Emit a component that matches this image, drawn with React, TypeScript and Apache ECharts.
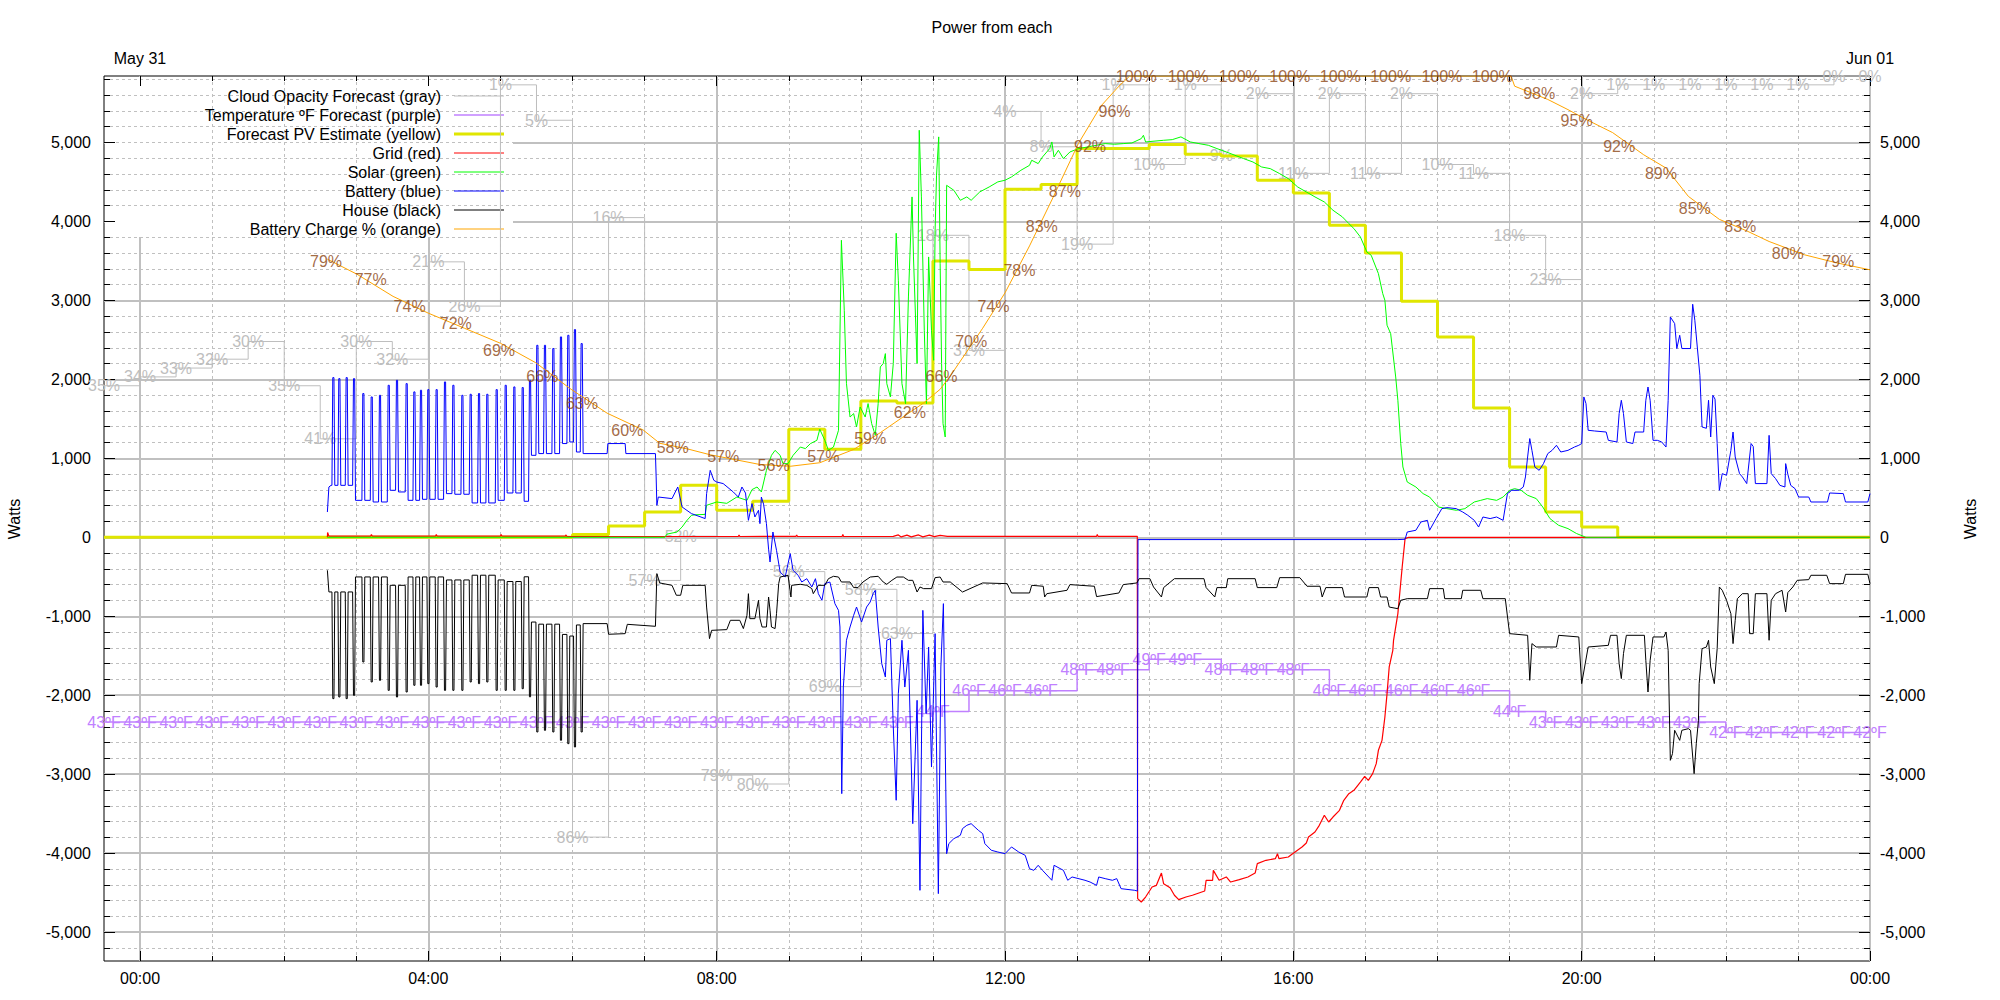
import React, { useEffect, useRef } from "react";
import * as echarts from "echarts";

const FONT = '"Liberation Sans", Arial, Helvetica, sans-serif';

// half-hour forecast slots (hours from 00:00 May 31)
const halfHours = [-0.5, 0, 0.5, 1, 1.5, 2, 2.5, 3, 3.5, 4, 4.5, 5, 5.5, 6, 6.5, 7, 7.5, 8, 8.5, 9, 9.5, 10, 10.5, 11, 11.5, 12, 12.5, 13, 13.5, 14, 14.5, 15, 15.5, 16, 16.5, 17, 17.5, 18, 18.5, 19, 19.5, 20, 20.5, 21, 21.5, 22, 22.5, 23, 23.5, 24];
const cloudPct = [35, 34, 33, 32, 30, 35, 41, 30, 32, 21, 26, 1, 5, 86, 16, 57, 52, 79, 80, 56, 69, 58, 63, 18, 31, 4, 8, 19, 1, 10, 1, 9, 2, 11, 2, 11, 2, 10, 11, 18, 23, 2, 1, 1, 1, 1, 1, 1, 0, 0];
const tempF = [43, 43, 43, 43, 43, 43, 43, 43, 43, 43, 43, 43, 43, 43, 43, 43, 43, 43, 43, 43, 43, 43, 43, 44, 46, 46, 46, 48, 48, 49, 49, 48, 48, 48, 46, 46, 46, 46, 46, 44, 43, 43, 43, 43, 43, 42, 42, 42, 42, 42];
const pvWatts = [0, 0, 0, 0, 0, 0, 0, 0, 0, 0, 0, 0, 0, 34, 143, 320, 658, 342, 456, 1368, 1114, 1726, 1700, 3499, 3390, 4407, 4466, 4922, 4922, 4973, 4850, 4829, 4520, 4360, 3951, 3600, 2988, 2537, 1637, 890, 320, 130, 0, 0, 0, 0, 0, 0, 0, 0];

const gridPoints = [[2.599, 0], [2.602, 60], [2.62, 15], [3.2, 15], [3.21, 35], [3.22, 15], [4.1, 15], [4.11, 35], [4.12, 15], [5.0, 15], [5.01, 35], [5.02, 15], [5.9, 15], [5.91, 30], [5.92, 12], [7.0, 10], [8.3, 10], [8.31, 30], [8.32, 10], [9.1, 12], [9.11, 30], [9.12, 10], [9.74, 10], [9.75, 35], [9.76, 10], [10.45, 12], [10.52, 30], [10.56, 5], [10.64, 28], [10.7, 5], [10.8, 30], [10.86, 5], [10.95, 28], [11.02, 8], [11.1, 25], [11.2, 12], [13.27, 12], [13.28, 35], [13.29, 12], [13.835, 12], [13.84, -4575], [13.89, -4618], [13.95, -4555], [14.04, -4428], [14.1, -4407], [14.17, -4251], [14.2, -4386], [14.29, -4437], [14.35, -4533], [14.41, -4588], [14.51, -4555], [14.6, -4533], [14.69, -4504], [14.77, -4479], [14.79, -4343], [14.88, -4343], [14.89, -4217], [14.97, -4343], [15.07, -4301], [15.13, -4365], [15.25, -4335], [15.37, -4301], [15.47, -4251], [15.5, -4132], [15.62, -4090], [15.75, -4069], [15.78, -4006], [15.8, -4069], [15.93, -4048], [15.99, -4006], [16.12, -3921], [16.18, -3871], [16.21, -3795], [16.3, -3732], [16.36, -3647], [16.43, -3520], [16.49, -3605], [16.55, -3542], [16.64, -3457], [16.7, -3330], [16.77, -3246], [16.84, -3204], [16.93, -3099], [16.99, -3027], [17.04, -3077], [17.1, -2992], [17.15, -2866], [17.18, -2697], [17.23, -2571], [17.27, -2276], [17.3, -1979], [17.33, -1642], [17.38, -1431], [17.39, -1304], [17.45, -966], [17.51, -376], [17.55, -17], [17.6, 0], [24, 0]];

const solarPoints = [[2.599, 0], [7.28, 0], [7.31, 40], [7.45, 67], [7.52, 130], [7.58, 206], [7.65, 278], [7.7, 285], [7.84, 290], [7.86, 405], [8.0, 447], [8.14, 430], [8.28, 510], [8.42, 468], [8.49, 604], [8.56, 637], [8.62, 574], [8.69, 848], [8.76, 1038], [8.81, 1101], [8.88, 1038], [8.92, 933], [8.99, 933], [9.06, 1038], [9.16, 1143], [9.23, 1123], [9.3, 1186], [9.39, 1228], [9.43, 1368], [9.5, 1228], [9.55, 1101], [9.62, 1143], [9.69, 1355], [9.73, 3761], [9.77, 2874], [9.8, 1950], [9.85, 1523], [9.9, 1566], [9.94, 1397], [9.99, 1650], [10.06, 1523], [10.1, 1693], [10.15, 1440], [10.2, 1291], [10.24, 1693], [10.27, 2157], [10.31, 2200], [10.34, 2326], [10.36, 1946], [10.41, 1777], [10.45, 2200], [10.49, 3850], [10.52, 3255], [10.57, 1946], [10.62, 1693], [10.66, 3043], [10.71, 4310], [10.73, 3550], [10.78, 2200], [10.81, 5154], [10.84, 4310], [10.88, 2621], [10.91, 1693], [10.94, 3550], [10.98, 2621], [11.01, 2241], [11.03, 3888], [11.05, 4585], [11.08, 5070], [11.1, 3466], [11.12, 2200], [11.14, 1440], [11.17, 1270], [11.19, 4457], [11.29, 4394], [11.38, 4267], [11.47, 4310], [11.53, 4267], [11.65, 4373], [11.78, 4436], [11.9, 4500], [12.0, 4521], [12.09, 4563], [12.22, 4647], [12.34, 4710], [12.37, 4774], [12.46, 4732], [12.52, 4816], [12.62, 4922], [12.65, 5006], [12.68, 4816], [12.74, 4900], [12.81, 4795], [12.9, 4879], [13.02, 4922], [13.15, 4943], [13.27, 4964], [13.39, 4985], [13.52, 4977], [13.64, 4985], [13.76, 4993], [13.89, 5048], [13.92, 5090], [13.95, 5006], [14.2, 5027], [14.32, 5035], [14.44, 5070], [14.57, 5006], [14.69, 4985], [14.82, 4964], [14.94, 4922], [15.07, 4879], [15.19, 4837], [15.31, 4795], [15.44, 4752], [15.56, 4689], [15.68, 4668], [15.81, 4605], [15.93, 4541], [16.06, 4436], [16.18, 4373], [16.3, 4310], [16.43, 4246], [16.55, 4141], [16.68, 4057], [16.77, 3972], [16.84, 3909], [16.93, 3803], [17.02, 3613], [17.08, 3571], [17.18, 3339], [17.24, 3086], [17.27, 3001], [17.3, 2685], [17.35, 2579], [17.42, 2030], [17.45, 1735], [17.49, 1187], [17.52, 890], [17.58, 700], [17.7, 637], [17.8, 553], [17.89, 510], [18.01, 384], [18.13, 363], [18.26, 342], [18.38, 363], [18.51, 447], [18.6, 468], [18.69, 490], [18.82, 468], [18.91, 510], [19.0, 595], [19.07, 616], [19.16, 595], [19.25, 532], [19.37, 490], [19.46, 384], [19.56, 237], [19.68, 152], [19.81, 110], [19.93, 47], [20.06, 0], [24, 0]];

// battery: start, charge/discharge pulses [centre hour, peak W, level after], then the rest
const batteryStart = [[2.599, 320], [2.62, 637], [2.65, 658]];
const batteryPulses = [[2.682, 2022, 658], [2.765, 2009, 658], [2.867, 2022, 658], [2.969, 2009, 468], [3.098, 1820, 468], [3.214, 1777, 447], [3.329, 1798, 447], [3.45, 1925, 595], [3.565, 1988, 574], [3.699, 1946, 468], [3.806, 1841, 468], [3.898, 1862, 481], [4.0, 1870, 481], [4.115, 1870, 481], [4.231, 1967, 553], [4.347, 1925, 545], [4.472, 1798, 545], [4.587, 1811, 435], [4.703, 1820, 435], [4.818, 1811, 435], [4.948, 1870, 468], [5.073, 1925, 561], [5.193, 1904, 561], [5.309, 1896, 456], [5.41, 1988, 1038], [5.512, 2431, 1060], [5.618, 2431, 1060], [5.734, 2390, 1060], [5.84, 2537, 1187], [5.942, 2558, 1207], [6.034, 2630, 1080], [6.127, 2453, 1060]];
const batteryTail = [[6.48, 1060], [6.49, 1187], [6.73, 1187], [6.74, 1060], [7.15, 1060], [7.16, 764], [7.17, 405], [7.19, 510], [7.38, 490], [7.46, 637], [7.52, 384], [7.65, 300], [7.84, 237], [7.86, 553], [7.91, 848], [7.96, 722], [8.0, 700], [8.09, 680], [8.23, 574], [8.3, 510], [8.35, 637], [8.4, 560], [8.44, 215], [8.49, 427], [8.53, 257], [8.58, 342], [8.6, 173], [8.62, 510], [8.65, 420], [8.69, 173], [8.72, -150], [8.74, -313], [8.78, 67], [8.83, -165], [8.88, -440], [8.95, -503], [9.02, -207], [9.06, -418], [9.13, -481], [9.18, -566], [9.25, -524], [9.32, -629], [9.37, -524], [9.41, -714], [9.46, -798], [9.5, -587], [9.57, -566], [9.64, -840], [9.69, -925], [9.71, -1136], [9.735, -3246], [9.757, -1896], [9.8, -1304], [9.85, -1136], [9.9, -988], [9.94, -883], [10.01, -1073], [10.08, -883], [10.13, -819], [10.17, -714], [10.2, -671], [10.24, -1136], [10.29, -1600], [10.34, -1769], [10.36, -1304], [10.41, -1283], [10.45, -2402], [10.49, -3330], [10.52, -1979], [10.57, -1304], [10.61, -1896], [10.66, -1431], [10.72, -3626], [10.78, -2064], [10.82, -4470], [10.86, -925], [10.905, -2233], [10.94, -1389], [10.98, -2909], [11.03, -1220], [11.075, -4512], [11.11, -1642], [11.145, -840], [11.19, -4006], [11.22, -3879], [11.29, -3816], [11.38, -3773], [11.41, -3689], [11.47, -3647], [11.53, -3626], [11.63, -3710], [11.69, -3752], [11.72, -3879], [11.81, -3963], [11.9, -3985], [12.0, -4006], [12.09, -3921], [12.19, -3985], [12.28, -4027], [12.34, -4196], [12.4, -4217], [12.46, -4153], [12.52, -4217], [12.65, -4343], [12.68, -4153], [12.81, -4217], [12.87, -4343], [12.93, -4301], [13.11, -4343], [13.18, -4365], [13.27, -4407], [13.3, -4301], [13.39, -4322], [13.49, -4343], [13.55, -4322], [13.61, -4449], [13.8, -4470], [13.835, -4479], [13.845, -29], [17.45, -29], [17.55, -25], [17.58, 67], [17.7, 89], [17.77, 194], [17.86, 215], [17.89, 89], [17.98, 237], [18.06, 363], [18.13, 376], [18.26, 363], [18.35, 320], [18.42, 279], [18.51, 215], [18.57, 130], [18.63, 257], [18.73, 237], [18.82, 257], [18.91, 215], [18.97, 553], [19.03, 595], [19.13, 595], [19.19, 637], [19.22, 764], [19.25, 1017], [19.28, 1250], [19.31, 1101], [19.35, 890], [19.41, 848], [19.47, 933], [19.53, 1060], [19.59, 1101], [19.65, 1165], [19.71, 1080], [19.81, 1101], [19.9, 1143], [19.96, 1165], [20.0, 1187], [20.03, 1777], [20.06, 1693], [20.09, 1355], [20.18, 1346], [20.34, 1333], [20.37, 1228], [20.49, 1207], [20.52, 1566], [20.55, 1735], [20.58, 1566], [20.62, 1207], [20.71, 1187], [20.74, 1333], [20.86, 1333], [20.89, 1735], [20.92, 1903], [20.95, 1735], [20.99, 1228], [21.05, 1228], [21.11, 1207], [21.17, 1143], [21.2, 1735], [21.23, 2790], [21.29, 2706], [21.32, 2390], [21.36, 2558], [21.39, 2390], [21.51, 2390], [21.54, 2951], [21.57, 2748], [21.64, 2051], [21.67, 1397], [21.73, 1380], [21.76, 1735], [21.79, 1270], [21.82, 1798], [21.85, 1750], [21.88, 1187], [21.91, 595], [21.95, 806], [22.01, 785], [22.07, 1101], [22.1, 1333], [22.13, 1017], [22.19, 806], [22.23, 764], [22.29, 680], [22.35, 1187], [22.38, 1150], [22.41, 680], [22.57, 680], [22.6, 1291], [22.63, 806], [22.69, 743], [22.75, 658], [22.82, 637], [22.83, 933], [22.86, 800], [22.9, 658], [22.96, 616], [23.01, 510], [23.15, 510], [23.18, 447], [23.41, 447], [23.44, 561], [23.63, 553], [23.66, 447], [23.97, 447], [24.0, 553]];

// house: start, pulses [centre hour, dip W, level after], then the rest
const houseStart = [[2.599, -418], [2.62, -692]];
const housePulses = [[2.682, -2043, -692], [2.765, -2022, -692], [2.867, -2043, -692], [2.969, -2001, -502], [3.098, -1579, -502], [3.214, -1832, -502], [3.329, -1811, -502], [3.45, -1938, -608], [3.565, -2022, -608], [3.699, -1959, -502], [3.806, -1874, -502], [3.898, -1874, -502], [4.0, -1853, -502], [4.115, -1896, -502], [4.231, -1938, -540], [4.347, -1938, -540], [4.472, -1938, -540], [4.587, -1832, -480], [4.703, -1853, -480], [4.818, -1832, -480], [4.948, -1938, -540], [5.073, -1938, -560], [5.193, -1938, -560], [5.309, -1917, -500], [5.41, -2020, -1073], [5.512, -2465, -1100], [5.618, -2444, -1100], [5.734, -2465, -1100], [5.84, -2570, -1230], [5.942, -2613, -1250], [6.034, -2655, -1110], [6.127, -2465, -1093]];
const houseTail = [[6.48, -1093], [6.5, -1228], [6.73, -1220], [6.76, -1102], [7.15, -1127], [7.17, -460], [7.21, -578], [7.38, -608], [7.44, -734], [7.5, -734], [7.53, -608], [7.84, -608], [7.86, -883], [7.9, -1283], [7.93, -1178], [8.14, -1169], [8.19, -1051], [8.32, -1051], [8.37, -1156], [8.42, -988], [8.44, -714], [8.46, -1030], [8.53, -1030], [8.58, -798], [8.6, -1030], [8.63, -1136], [8.69, -1136], [8.72, -756], [8.74, -925], [8.76, -1136], [8.81, -1156], [8.83, -967], [8.86, -587], [8.88, -503], [8.99, -481], [9.03, -756], [9.04, -608], [9.16, -595], [9.25, -608], [9.32, -650], [9.34, -714], [9.41, -608], [9.5, -608], [9.55, -524], [9.62, -494], [9.69, -503], [9.73, -566], [9.85, -566], [9.9, -637], [9.96, -637], [10.03, -566], [10.13, -503], [10.24, -494], [10.31, -566], [10.36, -595], [10.43, -545], [10.5, -503], [10.59, -503], [10.66, -545], [10.72, -545], [10.78, -693], [10.82, -629], [10.87, -650], [10.98, -650], [11.03, -511], [11.1, -503], [11.14, -566], [11.24, -566], [11.41, -693], [11.69, -578], [12.03, -587], [12.09, -705], [12.34, -705], [12.37, -608], [12.53, -620], [12.55, -756], [12.58, -714], [12.86, -671], [12.9, -599], [13.24, -620], [13.27, -751], [13.58, -705], [13.64, -599], [13.83, -578], [13.86, -524], [14.01, -524], [14.06, -629], [14.17, -756], [14.2, -637], [14.35, -524], [14.76, -524], [14.79, -637], [14.91, -756], [14.94, -637], [15.07, -637], [15.09, -524], [15.47, -524], [15.5, -637], [15.77, -637], [15.81, -511], [16.09, -511], [16.19, -620], [16.37, -620], [16.4, -756], [16.45, -637], [16.68, -637], [16.71, -756], [17.02, -756], [17.05, -637], [17.18, -637], [17.21, -756], [17.3, -756], [17.33, -883], [17.45, -904], [17.49, -798], [17.58, -777], [17.86, -777], [17.89, -650], [18.08, -650], [18.1, -777], [18.33, -777], [18.35, -671], [18.6, -671], [18.63, -777], [18.94, -777], [19.0, -1220], [19.25, -1241], [19.28, -1811], [19.31, -1346], [19.37, -1389], [19.65, -1389], [19.68, -1241], [19.96, -1262], [20.0, -1853], [20.09, -1389], [20.37, -1368], [20.4, -1241], [20.49, -1241], [20.52, -1600], [20.55, -1789], [20.58, -1473], [20.62, -1241], [20.87, -1241], [20.89, -1558], [20.92, -1959], [20.95, -1558], [20.99, -1262], [21.14, -1262], [21.17, -1199], [21.2, -1431], [21.23, -2824], [21.26, -2739], [21.29, -2444], [21.36, -2571], [21.39, -2444], [21.48, -2423], [21.51, -2444], [21.56, -2993], [21.59, -2613], [21.62, -2317], [21.63, -1853], [21.67, -1410], [21.73, -1390], [21.76, -1304], [21.79, -1642], [21.84, -1853], [21.88, -1410], [21.91, -629], [21.95, -671], [22.01, -798], [22.07, -967], [22.1, -1346], [22.13, -1051], [22.16, -777], [22.23, -714], [22.31, -714], [22.33, -1220], [22.38, -1220], [22.41, -714], [22.57, -714], [22.6, -1304], [22.63, -798], [22.69, -714], [22.78, -671], [22.83, -946], [22.86, -700], [22.93, -629], [22.99, -545], [23.15, -536], [23.18, -481], [23.4, -481], [23.44, -587], [23.63, -587], [23.66, -469], [23.97, -469], [24.0, -587]];

const chargePoints = [[2.6, 79.3], [3.01, 77.6], [3.51, 75.1], [4.0, 73.2], [4.5, 71.5], [5.0, 69.8], [5.49, 67.6], [5.98, 64.6], [6.48, 61.9], [6.98, 60.0], [7.21, 58.5], [7.6, 57.85], [7.91, 57.2], [8.6, 56.1], [9.02, 55.9], [9.43, 56.3], [9.9, 57.8], [10.27, 59.7], [10.59, 61.5], [10.87, 63.05], [11.1, 64.6], [11.24, 66.1], [11.69, 71.5], [12.0, 75.5], [12.34, 80.8], [12.65, 86.0], [13.02, 92.4], [13.33, 96.6], [13.58, 98.85], [13.73, 100], [19.02, 100], [19.07, 98.85], [19.53, 97.35], [19.81, 96.2], [20.06, 95.1], [20.43, 93.6], [20.86, 91.1], [21.17, 89.6], [21.48, 86.4], [21.91, 83.8], [22.29, 82.5], [22.6, 81.3], [23.09, 79.8], [23.53, 78.9], [24.0, 78.1]];
const chargeLabelTimes = [2.58, 3.2, 3.74, 4.38, 4.98, 5.58, 6.13, 6.76, 7.39, 8.09, 8.79, 9.48, 10.13, 10.68, 11.12, 11.53, 11.84, 12.2, 12.51, 12.83, 13.18, 13.52, 13.82, 14.54, 15.25, 15.95, 16.65, 17.35, 18.06, 18.76, 19.41, 19.93, 20.52, 21.1, 21.57, 22.2, 22.86, 23.56];
const chargeLabelValues = [79, 77, 74, 72, 69, 66, 63, 60, 58, 57, 56, 57, 59, 62, 66, 70, 74, 78, 83, 87, 92, 96, 100, 100, 100, 100, 100, 100, 100, 100, 98, 95, 92, 89, 85, 83, 80, 79];

const DEG = "\u00baF";
const legendEntries = [
  ["Cloud Opacity Forecast (gray)", "#bebebe", 1],
  [`Temperature ${DEG} Forecast (purple)`, "#c080ff", 1.5],
  ["Forecast PV Estimate (yellow)", "#e0e600", 3],
  ["Grid (red)", "#ff0000", 1],
  ["Solar (green)", "#00ff00", 1],
  ["Battery (blue)", "#0000ff", 1],
  ["House (black)", "#000000", 1],
  ["Battery Charge % (orange)", "#ffa500", 1],
];

function withPulses(start, pulses, tail) {
  const pts = start.map((p) => [p[0], p[1]]);
  let base = start[start.length - 1][1];
  for (const [t, peak, after] of pulses) {
    pts.push([t - 0.02, base], [t - 0.008, peak], [t + 0.008, peak], [t + 0.02, after]);
    base = after;
  }
  return pts.concat(tail);
}

const hhmm = (v) => `${String(((v % 24) + 24) % 24).padStart(2, "0")}:00`;
const thousands = (v) => Number(v).toLocaleString("en-US");

export default function App() {
  const ref = useRef(null);
  useEffect(() => {
    document.body.style.margin = "0";
    const chart = echarts.init(ref.current, null, { renderer: "svg", width: 2000, height: 1000 });
    const black = "#000";
    const major = { show: true, lineStyle: { color: "#c0c0c0", width: 2, type: "solid" } };
    const dashed = { show: true, lineStyle: { color: "#c0c0c0", width: 1, type: [3, 3] } };
    const hidden = (gridIndex, min, max, extra = {}) => ({ gridIndex, type: "value", min, max, show: false, ...extra });
    const labelStyle = { fontSize: 16, fontFamily: FONT, color: "#000" };

    const stepLabelSeries = (name, data, yAxisIndex, color, width, fmt, z) => ({
      name, type: "line", data, xAxisIndex: 0, yAxisIndex, step: "end", z, clip: false,
      symbol: "circle", symbolSize: 0.1, showSymbol: true, showAllSymbol: true,
      itemStyle: { color }, lineStyle: { color, width },
      label: { show: true, position: "inside", formatter: fmt, color, fontSize: 16, fontFamily: FONT, textBorderWidth: 0 },
      silent: true, emphasis: { disabled: true },
    });
    const plain = (name, data, color, width, z, yAxisIndex = 0, step = false) => ({
      name, type: "line", data, xAxisIndex: 0, yAxisIndex, z, step, showSymbol: false, symbol: "none",
      lineStyle: { color, width }, itemStyle: { color }, silent: true, emphasis: { disabled: true },
    });

    const option = {
      animation: false,
      textStyle: { fontFamily: FONT, fontSize: 16, color: "#000" },
      title: { text: "Power from each", left: 987, top: 14, textAlign: "center", textStyle: { fontSize: 16, fontWeight: "normal", color: "#000", fontFamily: FONT } },
      grid: [
        { left: 104, top: 76, width: 1766, height: 885, show: true, borderColor: "#000", borderWidth: 1, backgroundColor: "transparent" },
        { left: 140, top: 76, width: 1730, height: 885 },
        { left: 104, top: 142.45, width: 1766, height: 789.7 },
        { left: 104, top: 79.27, width: 1766, height: 63.18 },
        { left: 104, top: 932.15, width: 1766, height: 15.79 },
      ],
      xAxis: [
        hidden(0, -0.5, 24),
        { gridIndex: 1, type: "value", min: 0, max: 24, interval: 4, position: "bottom", z: 0, axisLine: { show: false }, axisTick: { show: false }, axisLabel: { show: false }, splitLine: major },
        { gridIndex: 1, type: "value", min: 0, max: 24, interval: 4, position: "bottom", z: 2, axisLine: { show: false },
          axisTick: { show: true, inside: true, length: 10, lineStyle: { color: black } },
          minorTick: { show: true, splitNumber: 4, length: 5, lineStyle: { color: black } },
          axisLabel: { ...labelStyle, margin: 9, formatter: hhmm }, splitLine: { show: false }, minorSplitLine: dashed },
        { gridIndex: 1, type: "value", min: 0, max: 24, interval: 4, position: "top", z: 2, axisLine: { show: false },
          axisTick: { show: true, inside: true, length: 10, lineStyle: { color: black } },
          minorTick: { show: true, splitNumber: 4, length: 5, lineStyle: { color: black } },
          axisLabel: { ...labelStyle, margin: 10, formatter: (v) => (v === 0 ? "May 31" : v === 24 ? "Jun 01" : "") }, splitLine: { show: false } },
        hidden(2, 0, 1),
        hidden(3, 0, 1),
        hidden(4, 0, 1),
      ],
      yAxis: [
        hidden(0, -5365, 5841),
        hidden(0, 0, 100),
        hidden(0, 0, 100, { inverse: true }),
        hidden(0, 20.13, 104.82),
        hidden(1, 0, 1),
        { gridIndex: 2, type: "value", min: -5000, max: 5000, interval: 1000, position: "left", z: 0, axisLine: { show: false }, axisTick: { show: false }, axisLabel: { show: false }, splitLine: major },
        { gridIndex: 2, type: "value", min: -5000, max: 5000, interval: 1000, position: "left", z: 2, axisLine: { show: false },
          axisTick: { show: true, inside: true, length: 11, lineStyle: { color: black } },
          minorTick: { show: true, splitNumber: 5, length: 6, lineStyle: { color: black } },
          axisLabel: { ...labelStyle, margin: 13, formatter: thousands }, splitLine: { show: false }, minorSplitLine: dashed },
        { gridIndex: 2, type: "value", min: -5000, max: 5000, interval: 1000, position: "right", z: 2, axisLine: { show: false },
          axisTick: { show: true, inside: true, length: 11, lineStyle: { color: black } },
          minorTick: { show: true, splitNumber: 5, length: 6, lineStyle: { color: black } },
          axisLabel: { ...labelStyle, margin: 10, formatter: thousands }, splitLine: { show: false } },
        { gridIndex: 3, type: "value", min: 5000, max: 5800, interval: 200, position: "left", z: 2, axisLine: { show: false },
          axisTick: { show: true, inside: true, length: 6, lineStyle: { color: black } }, axisLabel: { show: false }, splitLine: dashed },
        { gridIndex: 3, type: "value", min: 5000, max: 5800, interval: 200, position: "right", z: 2, axisLine: { show: false },
          axisTick: { show: true, inside: true, length: 6, lineStyle: { color: black } }, axisLabel: { show: false }, splitLine: { show: false } },
        { gridIndex: 4, type: "value", min: -5200, max: -5000, interval: 200, position: "left", z: 2, axisLine: { show: false },
          axisTick: { show: true, inside: true, length: 6, lineStyle: { color: black } }, axisLabel: { show: false }, splitLine: dashed },
        { gridIndex: 4, type: "value", min: -5200, max: -5000, interval: 200, position: "right", z: 2, axisLine: { show: false },
          axisTick: { show: true, inside: true, length: 6, lineStyle: { color: black } }, axisLabel: { show: false }, splitLine: { show: false } },
      ],
      series: [
        stepLabelSeries("Cloud Opacity Forecast (gray)", halfHours.map((t, i) => [t, cloudPct[i]]), 2, "#bebebe", 1, (p) => `${p.value[1]}%`, 3),
        stepLabelSeries(`Temperature ${DEG} Forecast (purple)`, halfHours.map((t, i) => [t, tempF[i]]), 3, "#c080ff", 1.5, (p) => `${p.value[1]}${DEG}`, 4),
        plain("Forecast PV Estimate (yellow)", halfHours.map((t, i) => [t, pvWatts[i]]), "#e0e600", 3, 5, 0, "end"),
        plain("Grid (red)", gridPoints, "#ff0000", 1.2, 6),
        plain("Solar (green)", solarPoints, "#00ff00", 1, 7),
        plain("Battery (blue)", withPulses(batteryStart, batteryPulses, batteryTail), "#0000ff", 1, 8),
        plain("House (black)", withPulses(houseStart, housePulses, houseTail), "#000000", 1, 9),
        plain("Battery Charge % (orange)", chargePoints, "#ffa500", 1, 10, 1),
        {
          name: "Battery Charge % labels", type: "scatter", xAxisIndex: 0, yAxisIndex: 1, z: 11, clip: false,
          data: chargeLabelTimes.map((t, i) => [t, chargeLabelValues[i]]),
          symbol: "circle", symbolSize: 0.1, itemStyle: { color: "#ffa500" },
          label: { show: true, position: "inside", formatter: (p) => `${p.value[1]}%`, color: "#8b4513", fontSize: 16, fontFamily: FONT, textBorderWidth: 0 },
          silent: true, emphasis: { disabled: true },
        },
      ],
      graphic: [
        { type: "rect", z: 1, shape: { x: 105, y: 77, width: 408, height: 160 }, style: { fill: "#ffffff" }, silent: true },
        ...legendEntries.flatMap(([text, color, w], i) => {
          const y = 96 + 19 * i;
          return [
            { type: "text", z: 3, x: 441, y, style: { text, fill: "#000", font: `16px ${FONT}`, textAlign: "right", align: "right", textVerticalAlign: "middle", verticalAlign: "middle" }, silent: true },
            { type: "line", z: 3, shape: { x1: 454, y1: y, x2: 504, y2: y }, style: { stroke: color, lineWidth: w }, silent: true },
          ];
        }),
        { type: "text", z: 3, x: 14, y: 519, rotation: Math.PI / 2, style: { text: "Watts", fill: "#000", font: `16px ${FONT}`, textAlign: "center", align: "center", textVerticalAlign: "middle", verticalAlign: "middle" }, silent: true },
        { type: "text", z: 3, x: 1970, y: 519, rotation: Math.PI / 2, style: { text: "Watts", fill: "#000", font: `16px ${FONT}`, textAlign: "center", align: "center", textVerticalAlign: "middle", verticalAlign: "middle" }, silent: true },
      ],
    };
    chart.setOption(option);
    return () => chart.dispose();
  }, []);
  return <div ref={ref} style={{ position: "absolute", left: 0, top: 0, width: 2000, height: 1000, background: "#fff" }} />;
}
